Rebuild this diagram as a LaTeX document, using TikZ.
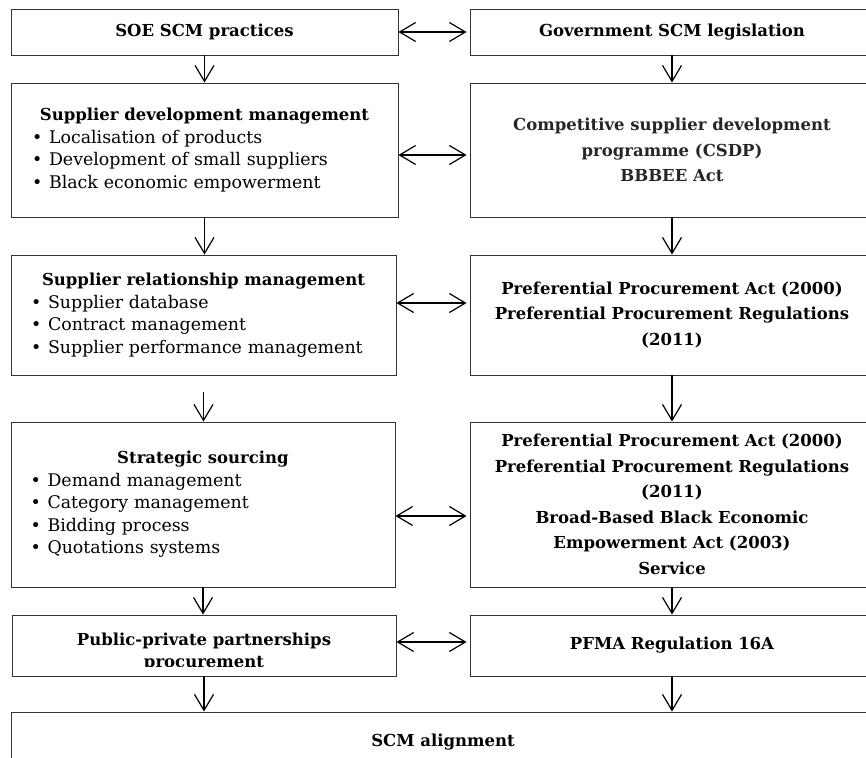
\documentclass[tikz,border=0pt]{standalone}
\usepackage{fontspec}
\setmainfont{DejaVu Serif}
\usetikzlibrary{arrows.meta}
\newcommand{\ttlline}[1]{\makebox[\hsize]{\fontsize{16.5}{22.5}\selectfont\bfseries #1}}
\newcommand{\bulitem}{\makebox[17pt][l]{\textbullet}}
\begin{document}
\begin{tikzpicture}[x=1pt,y=-1pt,
  bx/.style={draw=black!80, line width=0.9pt, rectangle, inner sep=0pt},
  ltxt/.style={font=\fontsize{17.4}{22.5}\selectfont, align=left, text width=345pt},
  rtxt/.style={font=\fontsize{16.5}{25.5}\selectfont\bfseries, align=center},
  onetxt/.style={font=\fontsize{16.5}{22}\selectfont\bfseries, align=center},
  arr/.style={line width=1.2pt, -{Straight Barb[length=16pt,width=19pt]}},
  darr/.style={line width=1.2pt, shorten >=3pt, {Straight Barb[length=16pt,width=19pt]}-{Straight Barb[length=16pt,width=19pt]}}]
\useasboundingbox (0,0) rectangle (866,757);
\clip (0,0) rectangle (866,757);

% Row 1
\node[bx, onetxt, minimum width=387pt, minimum height=46pt] (b1) at (204.5,32) {SOE SCM practices};
\node[bx, onetxt, minimum width=404pt, minimum height=46pt] (b2) at (672,32) {Government SCM legislation};

% Row 2
\node[bx, ltxt, minimum width=387pt, minimum height=134pt] (b3) at (204.5,150)
  {\ttlline{Supplier development management}\\
   \bulitem Localisation of products\\
   \bulitem Development of small suppliers\\
   \bulitem Black economic empowerment};
\node[bx, rtxt, text=black!85, minimum width=404pt, minimum height=134pt] (b4) at (672,150)
  {Competitive supplier development\\programme (CSDP)\\BBBEE Act};

% Row 3
\node[bx, ltxt, minimum width=385pt, minimum height=120pt] (b5) at (203.5,315)
  {\ttlline{Supplier relationship management}\\
   \bulitem Supplier database\\
   \bulitem Contract management\\
   \bulitem Supplier performance management};
\node[bx, rtxt, minimum width=404pt, minimum height=120pt] (b6) at (672,315)
  {Preferential Procurement Act (2000)\\Preferential Procurement Regulations\\(2011)};

% Row 4
\node[bx, ltxt, minimum width=384pt, minimum height=165pt] (b7) at (203,504.5)
  {\ttlline{Strategic sourcing}\\
   \bulitem Demand management\\
   \bulitem Category management\\
   \bulitem Bidding process\\
   \bulitem Quotations systems};
\node[bx, rtxt, minimum width=404pt, minimum height=165pt] (b8) at (672,504.5)
  {Preferential Procurement Act (2000)\\Preferential Procurement Regulations\\(2011)\\Broad-Based Black Economic\\Empowerment Act (2003)\\Service};

% Row 5
\node[bx, minimum width=384pt, minimum height=61pt] (b9) at (204,645.5) {};
\begin{scope}
  \clip (12,615) rectangle (396,666);
  \node[onetxt] (t9) at (204,652) {Public-private partnerships\\procurement};
\end{scope}
\node[bx, onetxt, minimum width=404pt, minimum height=61pt] (b10) at (672,645.5) {PFMA Regulation 16A};

% Row 6
\node[bx, onetxt, minimum width=864pt, minimum height=60pt] (b11) at (443,742) {SCM alignment};

% vertical arrows
\draw[arr] (b1.south) -- (b3.north);
\draw[arr] (b2.south) -- (b4.north);
\draw[arr] (b3.south) -- (b3.south |- b5.north);
\draw[arr] (b4.south) -- (b6.north);
\draw[arr] ([yshift=-17pt]b5.south) -- (b5.south |- b7.north);
\draw[arr] (b6.south) -- (b8.north);
\draw[arr] (b7.south) -- (b7.south |- b9.north);
\draw[arr] (b8.south) -- (b8.south |- b10.north);
\draw[arr] (b9.south) -- (b9.south |- b11.north);
\draw[arr] (b10.south) -- (b10.south |- b11.north);

% horizontal double arrows
\draw[darr] (b1.east) -- (b2.west);
\draw[darr] ([yshift=-5pt]b3.east) -- ([yshift=-5pt]b3.east -| b4.west);
\draw[darr] ([yshift=12pt]b5.east) -- ([yshift=12pt]b5.east -| b6.west);
\draw[darr] ([yshift=-11.5pt]b7.east) -- ([yshift=-11.5pt]b7.east -| b8.west);
\draw[darr] ([yshift=3.5pt]b9.east) -- ([yshift=3.5pt]b9.east -| b10.west);
\end{tikzpicture}
\end{document}
